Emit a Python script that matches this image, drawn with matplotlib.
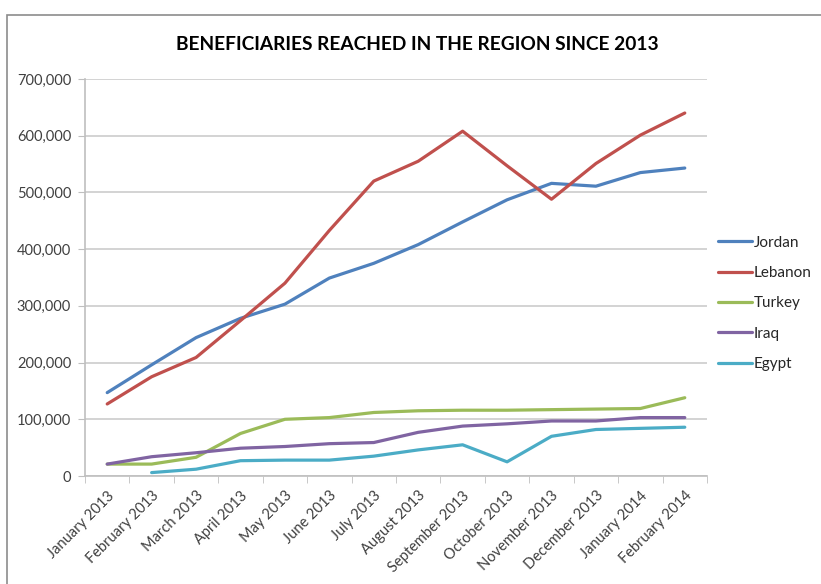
import numpy as np
import matplotlib
matplotlib.use("Agg")
import matplotlib.pyplot as plt
from matplotlib.patches import Rectangle

months = ["January 2013", "February 2013", "March 2013", "April 2013", "May 2013",
          "June 2013", "July 2013", "August 2013", "September 2013", "October 2013",
          "November 2013", "December 2013", "January 2014", "February 2014"]

jordan = [147000, 196000, 244000, 278000, 303000, 349000, 375000, 408000, 448000,
          487000, 516000, 511000, 535000, 543000]
lebanon = [127000, 175000, 209000, 274000, 340000, 433000, 520000, 555000, 608000,
           547000, 488000, 551000, 601000, 640000]
turkey = [21000, 21000, 33000, 75000, 100000, 103000, 112000, 115000, 116000,
          116000, 117000, 118000, 119000, 138000]
iraq = [21000, 34000, 41000, 49000, 52000, 57000, 59000, 77000, 88000,
        92000, 97000, 97000, 103000, 103000]
egypt = [np.nan, 6000, 12000, 27000, 28000, 28000, 35000, 46000, 55000,
         25000, 70000, 82000, 84000, 86000]

series = [("Jordan", jordan, "#4F81BD"),
          ("Lebanon", lebanon, "#C0504D"),
          ("Turkey", turkey, "#9BBB59"),
          ("Iraq", iraq, "#8064A2"),
          ("Egypt", egypt, "#4BACC6")]

plt.rcParams['font.family'] = ['Lato', 'DejaVu Sans']

fig = plt.figure(figsize=(8.21, 5.84), dpi=100)
ax = fig.add_axes([85/821, 1-476/584, (707-85)/821, (476-79)/584])

# outer chart border
fig.patches.append(Rectangle((7/821, -0.1), 1.2, 1-15/584+0.1, transform=fig.transFigure,
                             fill=False, edgecolor="#8c8c8c", linewidth=1.2))

x = np.arange(len(months))
for name, vals, col in series:
    ax.plot(x, vals, color=col, linewidth=2.3, label=name, solid_capstyle="round")

ax.set_xlim(-0.5, len(months) - 0.5)
ax.set_ylim(0, 700000)
ax.set_yticks(range(0, 700001, 100000))
ax.set_yticklabels(["0" if v == 0 else f"{v:,}" for v in range(0, 700001, 100000)],
                   fontsize=10.5, color="#404040")
ax.yaxis.grid(True, color="#d0d0d0", linewidth=1.3)
ax.set_axisbelow(True)

ax.set_xticks(x)
ax.set_xticklabels(months, rotation=45, ha="right", rotation_mode="anchor",
                   fontsize=10.5, color="#404040")
ax.set_xticks(np.arange(-0.5, len(months)), minor=True)
ax.tick_params(axis="x", which="major", length=0, pad=9)
ax.tick_params(axis="x", which="minor", length=5, color="#bfbfbf", direction="out")
ax.tick_params(axis="y", length=5, color="#bfbfbf", direction="out", pad=5)

for s in ["top", "right"]:
    ax.spines[s].set_visible(False)
ax.spines["left"].set_color("#bfbfbf")
ax.spines["bottom"].set_color("#bfbfbf")
ax.spines["left"].set_linewidth(1.2)
ax.spines["bottom"].set_linewidth(1.2)

fig.text(417/821, 1 - 44/584, "BENEFICIARIES REACHED IN THE REGION SINCE 2013",
         ha="center", va="center", fontsize=13.8, fontweight="bold", color="black")

ax.legend(loc="center left", bbox_to_anchor=(1.0177, 0.435), frameon=False, fontsize=11,
          handlelength=2.2, handletextpad=0.15, labelspacing=1.07,
          borderaxespad=0, borderpad=0, labelcolor="#262626")

fig.savefig("out.png", dpi=100)
